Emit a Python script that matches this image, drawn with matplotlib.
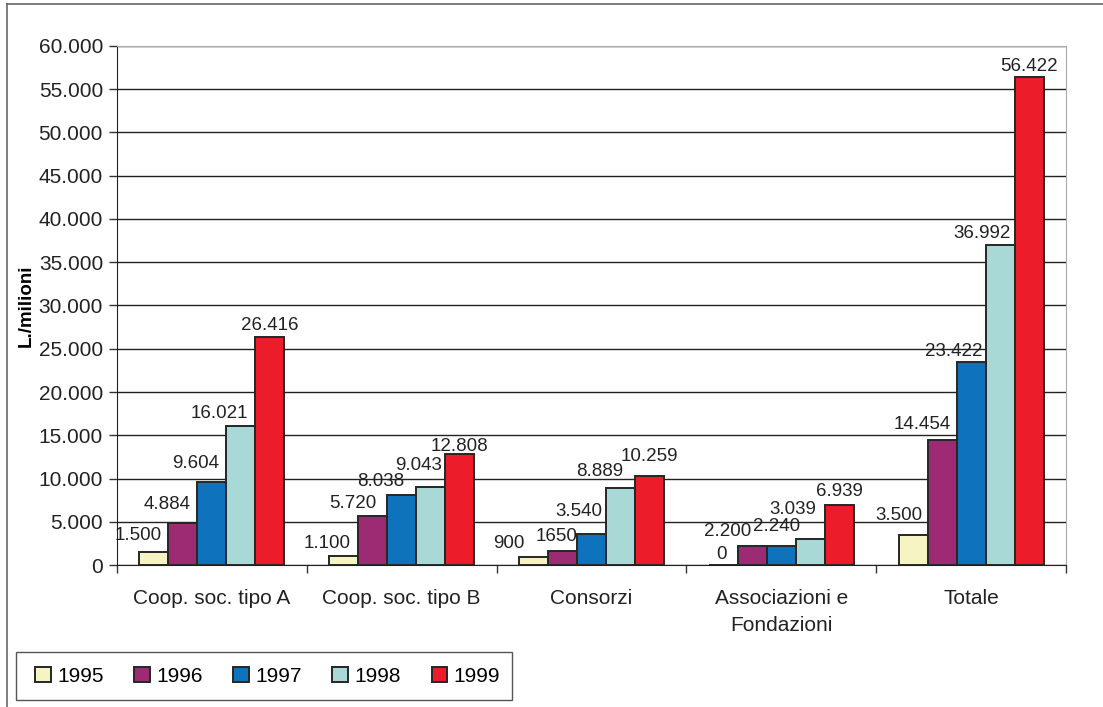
import matplotlib.pyplot as plt
import numpy as np
from matplotlib.lines import Line2D
from matplotlib.patches import Rectangle

plt.rcParams['font.family'] = ['Liberation Sans', 'DejaVu Sans']

# data
categories = ['Coop. soc. tipo A', 'Coop. soc. tipo B', 'Consorzi',
              'Associazioni e\nFondazioni', 'Totale']
years = ['1995', '1996', '1997', '1998', '1999']
v1995 = [1500, 1100, 900, 0, 3500]
v1996 = [4884, 5720, 1650, 2200, 14454]
v1997 = [9604, 8038, 3540, 2240, 23422]
v1998 = [16021, 9043, 8889, 3039, 36992]
v1999 = [26416, 12808, 10259, 6939, 56422]
labels1996 = ['4.884', '5.720', '1650', '2.200', '14.454']
series = [v1995, v1996, v1997, v1998, v1999]
colors = ['#F7F4C4', '#9C2B73', '#0E72BC', '#A8D9D6', '#EC1C2A']

# label nudges in pixels (as the original places them), per series / group
dx_px = [[8, 7, -9, 4, 9],
         [8, 4, 15, -1, 9],
         [7, 3, 11, 19, 11],
         [7, 11, 3, 6, 11],
         [0, 0, 0, 0, 0]]
dy_px = [[12, 8, 9, 6, 15],
         [14, 8, 10, 10, 11],
         [14, 9, 18, 15, 6],
         [8, 17, 12, 25, 7],
         [7, 3, 15, 9, 6]]


def fmt(v):
    return '{:,}'.format(v).replace(',', '.')


fig = plt.figure(figsize=(11.03, 7.07), dpi=100)
ax = fig.add_axes([0.106, 0.2008, 0.8605, 0.7342])

x = np.arange(len(categories))
w = 0.153
for i, (vals, col) in enumerate(zip(series, colors)):
    pos = x + (i - 2) * w
    ax.bar(pos, vals, width=w, color=col, edgecolor='#262626', linewidth=1.4, zorder=3)
    for j, (p, v) in enumerate(zip(pos, vals)):
        txt = labels1996[j] if i == 1 else fmt(v)
        ax.annotate(txt, (p, v), xytext=(dx_px[i][j] * 0.72, dy_px[i][j] * 0.72),
                    textcoords='offset points',
                    ha='center' if i == 4 else 'right', va='baseline',
                    fontsize=13.5, color='#222222')

ax.set_xlim(-0.5, len(categories) - 0.5)
ax.set_ylim(0, 60000)
ax.set_yticks(np.arange(0, 60001, 5000))
ax.set_yticklabels([fmt(t) for t in range(0, 60001, 5000)], fontsize=15, color='#222222')
ax.set_xticks(x)
ax.set_xticklabels(categories, fontsize=15, color='#222222', linespacing=1.55)
ax.set_xticks(np.arange(-0.5, len(categories)), minor=True)
ax.tick_params(axis='x', which='major', length=0, pad=17)
ax.tick_params(axis='x', which='minor', length=6, width=1, color='#333333', direction='out')
ax.tick_params(axis='y', length=6, width=1, color='#333333', pad=4)
ax.grid(True, axis='y', color='#222222', linewidth=1)
ax.set_axisbelow(True)
ax.set_ylabel('L./milioni', fontsize=13.5, fontweight='bold', labelpad=3)

ax.spines['left'].set_color('#222222')
ax.spines['bottom'].set_color('#222222')
ax.spines['top'].set_color('#aaaaaa')
ax.spines['right'].set_color('#aaaaaa')

# legend (frame drawn separately)
leg = ax.legend(years, ncol=5, loc='center left', mode='expand',
                bbox_to_anchor=(35 / 1103, 1 - 676 / 707, 465 / 1103, 0),
                bbox_transform=fig.transFigure, fontsize=15, frameon=False,
                handlelength=0.75, handleheight=0.75, handletextpad=0.3,
                borderpad=0, borderaxespad=0)
fig.add_artist(Rectangle((16 / 1103, 1 - 700 / 707), 496 / 1103, 48 / 707,
                         transform=fig.transFigure, fill=False,
                         edgecolor='#555555', linewidth=1))

# outer frame
fig.add_artist(Line2D([0.0065, 1.0], [0.994, 0.994], color='#666666', linewidth=1.2))
fig.add_artist(Line2D([0.0065, 0.0065], [0.0, 0.994], color='#666666', linewidth=1.2))

plt.savefig('out.png', dpi=100)
